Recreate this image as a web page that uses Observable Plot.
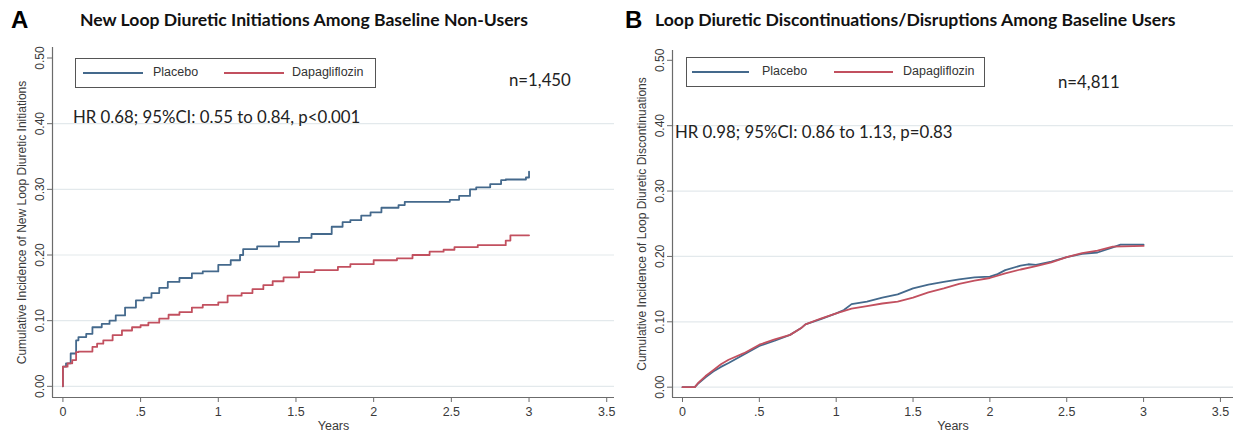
<!DOCTYPE html>
<html>
<head>
<meta charset="utf-8">
<script src="https://cdn.jsdelivr.net/npm/d3@7"></script>
<script src="https://cdn.jsdelivr.net/npm/@observablehq/plot@0.6"></script>
<style>
  html, body { margin: 0; padding: 0; background: #fff; }
  #wrap { position: relative; width: 1235px; height: 433px; background: #fff; overflow: hidden; }
  .abs { position: absolute; white-space: nowrap; }
  .letter { font-family: "Liberation Sans", Arial, sans-serif; font-weight: bold; font-size: 24px; line-height: 24px; color: #000; }
  .title { font-family: Lato, "Open Sans", sans-serif; font-weight: bold; font-size: 17.6px; line-height: 18px; color: #111; }
  .annot { font-family: Lato, "Open Sans", sans-serif; font-size: 16.8px; line-height: 17px; color: #222; }
  .legend { border: 1px solid #555; background: #fff; box-sizing: border-box; }
  .legtext { font-family: "Liberation Sans", Arial, sans-serif; font-size: 12.5px; line-height: 13px; color: #333; }
  .legline { height: 0; border-top: 2px solid; }
</style>
</head>
<body>
<div id="wrap"></div>
<script>
// ---- Shared axis definitions ----
const xTicks = [0, 0.5, 1, 1.5, 2, 2.5, 3, 3.5];
const xTickLabels = ["0", ".5", "1", "1.5", "2", "2.5", "3", "3.5"];
const yTicks = [0, 0.1, 0.2, 0.3, 0.4, 0.5];
const yTickLabels = ["0.00", "0.10", "0.20", "0.30", "0.40", "0.50"];
const gridValues = [0, 0.1, 0.2, 0.3, 0.4];
const seriesNames = ["Placebo", "Dapagliflozin"];
const seriesColors = ["#44698c", "#c2505f"];

// ---- Panel A: New loop diuretic initiations among baseline non-users ----
const titleA = "New Loop Diuretic Initiations Among Baseline Non-Users";
const yLabelA = "Cumulative Incidence of New Loop Diuretic Initiations";
const nA = "n=1,450";
const hrA = "HR 0.68; 95%CI: 0.55 to 0.84, p<0.001";
const placeboA_t = [0, 0, 0.02, 0.05, 0.085, 0.1, 0.15, 0.19, 0.25, 0.3, 0.34, 0.4, 0.47, 0.52, 0.57, 0.62, 0.675, 0.75, 0.83, 0.9, 1.0, 1.08, 1.14, 1.16, 1.25, 1.39, 1.52, 1.6, 1.73, 1.8, 1.85, 1.92, 1.98, 2.05, 2.16, 2.2, 2.49, 2.55, 2.62, 2.66, 2.75, 2.82, 2.85, 2.98, 3.0];
const placeboA_v = [0, 0.03, 0.035, 0.05, 0.07, 0.075, 0.08, 0.09, 0.095, 0.10, 0.108, 0.12, 0.131, 0.135, 0.142, 0.15, 0.159, 0.165, 0.172, 0.175, 0.185, 0.192, 0.2, 0.209, 0.213, 0.22, 0.226, 0.232, 0.243, 0.25, 0.253, 0.26, 0.265, 0.272, 0.276, 0.281, 0.284, 0.29, 0.30, 0.303, 0.308, 0.314, 0.315, 0.318, 0.327];
const dapaA_t = [0, 0, 0.03, 0.06, 0.085, 0.1, 0.19, 0.22, 0.26, 0.32, 0.38, 0.445, 0.5, 0.55, 0.62, 0.68, 0.75, 0.83, 0.9, 1.0, 1.06, 1.15, 1.22, 1.29, 1.35, 1.42, 1.52, 1.62, 1.77, 1.85, 2.0, 2.15, 2.25, 2.36, 2.45, 2.52, 2.67, 2.85, 2.88, 3.0];
const dapaA_v = [0, 0.03, 0.035, 0.04, 0.052, 0.053, 0.06, 0.065, 0.07, 0.078, 0.085, 0.09, 0.093, 0.097, 0.103, 0.109, 0.113, 0.12, 0.124, 0.128, 0.138, 0.142, 0.148, 0.154, 0.16, 0.166, 0.174, 0.177, 0.182, 0.186, 0.192, 0.195, 0.2, 0.205, 0.208, 0.212, 0.215, 0.222, 0.23, 0.23];

// ---- Panel B: Loop diuretic discontinuations/disruptions among baseline users ----
const titleB = "Loop Diuretic Discontinuations/Disruptions Among Baseline Users";
const yLabelB = "Cumulative Incidence of Loop Diuretic Discontinuations";
const nB = "n=4,811";
const hrB = "HR 0.98; 95%CI: 0.86 to 1.13, p=0.83";
const placeboB_t = [0, 0.08, 0.1, 0.15, 0.2, 0.25, 0.3, 0.4, 0.5, 0.6, 0.7, 0.77, 0.8, 0.9, 1.0, 1.05, 1.1, 1.2, 1.3, 1.4, 1.5, 1.6, 1.7, 1.8, 1.9, 2.0, 2.05, 2.1, 2.2, 2.25, 2.3, 2.4, 2.5, 2.6, 2.7, 2.8, 2.85, 3.0];
const placeboB_v = [0, 0, 0.005, 0.015, 0.024, 0.031, 0.037, 0.05, 0.063, 0.071, 0.08, 0.09, 0.096, 0.104, 0.113, 0.118, 0.127, 0.131, 0.137, 0.142, 0.151, 0.157, 0.161, 0.165, 0.168, 0.169, 0.173, 0.179, 0.186, 0.188, 0.187, 0.192, 0.199, 0.204, 0.206, 0.214, 0.218, 0.218];
const dapaB_t = [0, 0.08, 0.1, 0.15, 0.2, 0.25, 0.3, 0.4, 0.5, 0.6, 0.7, 0.77, 0.8, 0.9, 1.0, 1.1, 1.2, 1.3, 1.4, 1.5, 1.6, 1.7, 1.8, 1.9, 2.0, 2.1, 2.2, 2.3, 2.4, 2.5, 2.6, 2.7, 2.8, 3.0];
const dapaB_v = [0, 0, 0.006, 0.017, 0.026, 0.035, 0.042, 0.052, 0.065, 0.073, 0.08, 0.09, 0.096, 0.105, 0.113, 0.12, 0.124, 0.128, 0.131, 0.137, 0.145, 0.151, 0.158, 0.163, 0.167, 0.174, 0.18, 0.185, 0.191, 0.199, 0.205, 0.209, 0.215, 0.216];

function toRows(t, v, name) { return t.map((d, i) => ({t: d, v: v[i], name})); }
const xLabelMap = new Map(xTicks.map((d, i) => [d, xTickLabels[i]]));
const yLabelMap = new Map(yTicks.map((d, i) => [d, yTickLabels[i]]));

function panel(cfg) {
  const rows = [
    ...toRows(cfg.pt, cfg.pv, seriesNames[0]),
    ...toRows(cfg.dt, cfg.dv, seriesNames[1])
  ];
  return Plot.plot({
    width: cfg.width,
    height: 393,
    marginTop: cfg.marginTop,
    marginBottom: 36,
    marginLeft: cfg.marginLeft,
    marginRight: cfg.marginRight,
    style: {fontFamily: '"Liberation Sans", Arial, sans-serif', fontSize: "12px", color: "#3a3a3a", background: "white", overflow: "visible"},
    x: {domain: cfg.xDomain},
    y: {domain: cfg.yDomain},
    color: {domain: seriesNames, range: seriesColors},
    marks: [
      Plot.gridY(gridValues, {stroke: "#e3e9ec", strokeOpacity: 1, strokeWidth: 1.2}),
      Plot.axisX(xTicks, {tickFormat: d => xLabelMap.get(d), tickSize: 5, tickPadding: 5, stroke: "#6b6b6b",
        label: "Years", labelAnchor: "center", labelOffset: 32, labelArrow: "none", fontSize: 12.5}),
      Plot.axisY(yTicks, {tickFormat: d => yLabelMap.get(d), tickRotate: -90, tickSize: 5, tickPadding: 4, stroke: "#6b6b6b",
        label: cfg.yLabel, labelAnchor: "center", labelOffset: 35, labelArrow: "none", fontSize: 12}),
      Plot.ruleX([cfg.xDomain[0]], {stroke: "#6b6b6b", strokeWidth: 1.2}),
      Plot.ruleY([cfg.yDomain[0]], {stroke: "#6b6b6b", strokeWidth: 1.2}),
      Plot.line(rows, {x: "t", y: "v", z: "name", stroke: "name", curve: cfg.curve, strokeWidth: 1.8})
    ]
  });
}

const wrap = document.getElementById("wrap");
function addDiv(cls, text, left, top, extra) {
  const d = document.createElement("div");
  d.className = "abs " + cls;
  if (text != null) d.textContent = text;
  d.style.left = left + "px";
  d.style.top = top + "px";
  if (extra) Object.assign(d.style, extra);
  wrap.appendChild(d);
  return d;
}

function legend(left, top, width, height, items) {
  addDiv("legend", null, left, top, {width: width + "px", height: height + "px"});
  items.forEach(it => {
    addDiv("legline", null, it.lineX, top + height / 2 - 1, {width: it.lineW + "px", borderTopColor: it.color});
    addDiv("legtext", it.label, it.textX, top + height / 2 - 7);
  });
}

// Panel A
const svgA = panel({width: 617, marginTop: 7, marginLeft: 52, marginRight: 3,
  xDomain: [-0.067, 3.55], yDomain: [-0.017, 0.516], yLabel: yLabelA,
  pt: placeboA_t, pv: placeboA_v, dt: dapaA_t, dv: dapaA_v, curve: "step-after"});
svgA.style.position = "absolute"; svgA.style.left = "0px"; svgA.style.top = "40px";
wrap.appendChild(svgA);

// Panel B
const svgB = panel({width: 618, marginTop: 10, marginLeft: 55, marginRight: 2,
  xDomain: [-0.065, 3.585], yDomain: [-0.0158, 0.515], yLabel: yLabelB,
  pt: placeboB_t, pv: placeboB_v, dt: dapaB_t, dv: dapaB_v, curve: "linear"});
svgB.style.position = "absolute"; svgB.style.left = "617px"; svgB.style.top = "40px";
wrap.appendChild(svgB);

// Titles
addDiv("letter", "A", 11, 8);
addDiv("title", titleA, 80, 11);
addDiv("letter", "B", 625, 8);
addDiv("title", titleB, 655, 11);

// Legends
legend(75, 58, 301, 30, [
  {lineX: 83, lineW: 60, color: seriesColors[0], textX: 153, label: seriesNames[0]},
  {lineX: 224, lineW: 60, color: seriesColors[1], textX: 292, label: seriesNames[1]}
]);
legend(686, 57, 299, 30, [
  {lineX: 692, lineW: 57, color: seriesColors[0], textX: 762, label: seriesNames[0]},
  {lineX: 834, lineW: 59, color: seriesColors[1], textX: 903, label: seriesNames[1]}
]);

// Annotations
addDiv("annot", nA, 509, 71);
addDiv("annot", hrA, 73, 108);
addDiv("annot", nB, 1058, 73);
addDiv("annot", hrB, 675, 123);
</script>
</body>
</html>
